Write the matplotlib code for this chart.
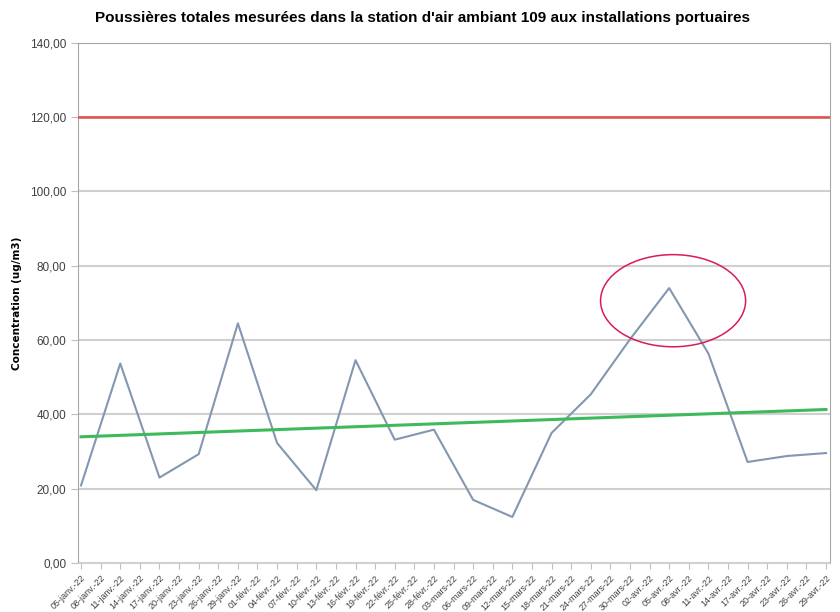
import matplotlib.pyplot as plt
from matplotlib.patches import Ellipse
import numpy as np

plt.rcParams['font.family'] = ['Liberation Sans Narrow', 'Liberation Sans', 'DejaVu Sans']

# dates d'axe (tous les 3 jours)
jours_axe = ['05-janv.-22', '08-janv.-22', '11-janv.-22', '14-janv.-22', '17-janv.-22',
             '20-janv.-22', '23-janv.-22', '26-janv.-22', '29-janv.-22',
             '01-févr.-22', '04-févr.-22', '07-févr.-22', '10-févr.-22', '13-févr.-22',
             '16-févr.-22', '19-févr.-22', '22-févr.-22', '25-févr.-22', '28-févr.-22',
             '03-mars-22', '06-mars-22', '09-mars-22', '12-mars-22', '15-mars-22',
             '18-mars-22', '21-mars-22', '24-mars-22', '27-mars-22', '30-mars-22',
             '02-avr.-22', '05-avr.-22', '08-avr.-22', '11-avr.-22', '14-avr.-22',
             '17-avr.-22', '20-avr.-22', '23-avr.-22', '26-avr.-22', '29-avr.-22']

# mesures (une tous les 6 jours, du 05-janv au 29-avr)
mesures = [20.9, 53.7, 23.0, 29.3, 64.5, 32.3, 19.6, 54.6, 33.2, 35.9,
           17.0, 12.4, 35.0, 45.4, 60.2, 74.0, 56.4, 27.2, 28.8, 29.6]
pas_mesure = 2   # en nombre de graduations
norme = 120

x = np.arange(len(mesures)) * pas_mesure
pente, ordo = np.polyfit(x, mesures, 1)

fig = plt.figure(figsize=(8.4, 6.12), dpi=100)
ax = fig.add_axes([0.093, 0.080, 0.895, 0.850])

ax.plot(x, mesures, color='#8497b0', lw=1.5, zorder=3)
ax.plot(x, pente * x + ordo, color='#3dba5c', lw=2.2, zorder=4)
ax.axhline(norme, color='#e0504a', lw=1.8, zorder=4)

# cercle autour du pic
ax.add_patch(Ellipse((30.2, 70.6), 7.4, 24.8, fill=False, ec='#d81b5a', lw=1.1, zorder=5))

ax.set_xlim(-0.15, len(jours_axe) - 1 + 0.2)
ax.set_ylim(0, 140)
ax.set_yticks(np.arange(0, 141, 20))
ax.set_yticklabels([f'{v:.2f}'.replace('.', ',') for v in np.arange(0, 141, 20)],
                   fontsize=8.5, color='#404040')
ax.set_xticks(np.arange(len(jours_axe)))
ax.set_xticklabels(jours_axe, rotation=45, ha='right', rotation_mode='anchor',
                   fontsize=6.5, color='#404040')
ax.tick_params(axis='y', length=5, color='#bfbfbf')
ax.tick_params(axis='x', length=4, color='#bfbfbf')

ax.grid(axis='y', color='#d0d0d0', lw=1.5)
ax.set_axisbelow(True)
for s in ax.spines.values():
    s.set_color('#a6a6a6')
ax.spines['bottom'].set_color('#d0d0d0')

ax.set_ylabel('Concentration (ug/m3)', fontsize=7.5, fontweight='bold',
              family=['DejaVu Sans'], labelpad=6)
fig.suptitle("Poussières totales mesurées dans la station d'air ambiant 109 aux installations portuaires",
             fontsize=11, fontweight='bold', x=0.503, y=0.982)

fig.savefig('out.png', dpi=100)
